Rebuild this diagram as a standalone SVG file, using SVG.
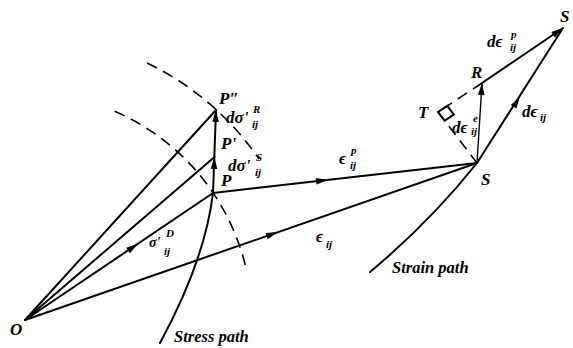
<svg xmlns="http://www.w3.org/2000/svg" width="573" height="348" viewBox="0 0 573 348">
<style>
.ln{stroke:#000;stroke-width:2;fill:none;stroke-linecap:round}
.th{stroke:#000;stroke-width:1.4;fill:none}
.ds{stroke:#000;stroke-width:1.6;fill:none;stroke-dasharray:11,7}
.lb{font-family:"Liberation Serif","DejaVu Serif",serif;font-style:italic;font-weight:bold;font-size:17px;fill:#000}
.sm{font-size:11px}
.md{font-size:16.5px}
.sg{font-size:14px}
</style>
<defs>
<path id="ah" d="M0,0 L-12,-3.3 L-12,3.3 Z" fill="#000"/>
</defs>
<rect width="573" height="348" fill="#fff"/>
<g id="arcs">
<path class="ds" d="M147,63 A284,284 0 0,1 259,159"/>
<path class="ds" d="M114.6,111.3 A227,227 0 0,1 246.5,270.3"/>
</g>
<g id="connectors">
<line class="ln" x1="25" y1="320" x2="216" y2="110"/>
<line class="ln" x1="25" y1="320" x2="214.5" y2="157"/>
<line class="ln" x1="25" y1="320" x2="213" y2="193"/>
<line class="ln" x1="25" y1="320" x2="477" y2="163"/>
<line class="ln" x1="213" y1="193" x2="477" y2="163"/>
<line class="ln" x1="213" y1="193" x2="216" y2="110"/>
<path class="ln" d="M160,343 Q205,260 213,193"/>
<path class="ln" d="M370,272 Q430,222 477,163"/>
<line class="ln" x1="477" y1="163" x2="563" y2="28"/>
<line class="th" x1="477" y1="163" x2="482" y2="83"/>
<line class="ln" x1="482" y1="83" x2="563" y2="28"/>
<line class="ds" x1="482" y1="83" x2="438" y2="112"/>
<line class="ds" x1="438" y1="112" x2="477" y2="163"/>
<polygon points="438,112 447.2,105.9 453.9,114.6 444.7,120.7" fill="none" stroke="#000" stroke-width="2"/>
<use href="#ah" transform="translate(138,243.7) rotate(-34.04)"/>
<use href="#ah" transform="translate(328,179.9) rotate(-6.48)"/>
<use href="#ah" transform="translate(278,232.1) rotate(-19.15)"/>
<use href="#ah" transform="translate(214.4,157) rotate(-87.9)"/>
<use href="#ah" transform="translate(216,110) rotate(-87.9)"/>
<use href="#ah" transform="translate(482,83) rotate(-86.4)"/>
<use href="#ah" transform="translate(563,28) rotate(-34.2)"/>
<use href="#ah" transform="translate(520,96.7) rotate(-57.5)"/>
</g>
<g id="node-O"><text class="lb" x="10" y="335">O</text></g>
<g id="node-P2"><text class="lb" x="219" y="104">P″</text></g>
<g id="label-dsR">
<text class="lb" x="226" y="123">dσ'</text>
<text class="lb sm" x="253" y="113">R</text>
<text class="lb sm" x="252" y="128">ij</text>
</g>
<g id="node-P1"><text class="lb" x="221" y="149">P'</text></g>
<g id="label-dsS">
<text class="lb" x="228" y="171">dσ'</text>
<text class="lb sm" x="256" y="161">S</text>
<text class="lb sm" x="255" y="176">ij</text>
</g>
<g id="node-P"><text class="lb" x="221" y="186">P</text></g>
<g id="label-sD">
<text class="lb sg" x="149" y="247">σ'</text>
<text class="lb sm" x="166" y="237">D</text>
<text class="lb sm" x="164" y="255">ij</text>
</g>
<g id="label-ep">
<text class="lb" x="339" y="164">ϵ</text>
<text class="lb sm" x="351" y="154">p</text>
<text class="lb sm" x="350" y="169">ij</text>
</g>
<g id="label-e">
<text class="lb" x="316" y="242">ϵ</text>
<text class="lb sm" x="326" y="248">ij</text>
</g>
<g id="label-stress"><text class="lb md" x="174" y="342">Stress path</text></g>
<g id="label-strain"><text class="lb md" x="392" y="273">Strain path</text></g>
<g id="node-S"><text class="lb" x="481" y="185">S</text></g>
<g id="node-T"><text class="lb" x="418" y="118">T</text></g>
<g id="node-R"><text class="lb" x="471" y="78">R</text></g>
<g id="label-dee">
<text class="lb" x="452" y="133">dϵ</text>
<text class="lb sm" x="473" y="122">e</text>
<text class="lb sm" x="471" y="135">ij</text>
</g>
<g id="label-dep">
<text class="lb" x="487" y="47">dϵ</text>
<text class="lb sm" x="511" y="38">p</text>
<text class="lb sm" x="510" y="51">ij</text>
</g>
<g id="label-de">
<text class="lb" x="522" y="117">dϵ</text>
<text class="lb sm" x="540" y="121">ij</text>
</g>
<g id="node-Stop"><text class="lb" x="560" y="22">S</text></g>
</svg>
